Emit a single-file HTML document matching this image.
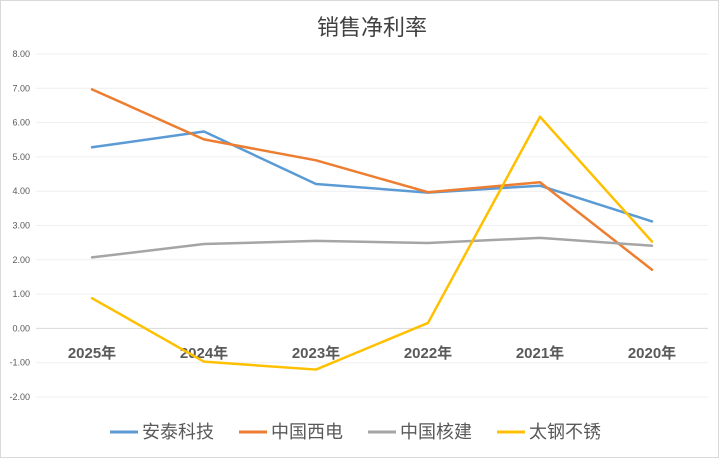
<!DOCTYPE html>
<html><head><meta charset="utf-8"><style>
body{margin:0;background:#fff;}
svg{display:block;font-family:"Liberation Sans","Noto Sans CJK SC",sans-serif;}
</style></head><body>
<svg width="719" height="458">
<rect x="0.5" y="0.5" width="718" height="457" fill="#fff" stroke="#d9d9d9"/>
<text x="372" y="35" text-anchor="middle" font-size="22" fill="#404040">销售净利率</text>
<g id="grid"></g><g id="yl"></g><g id="xl"></g><g id="lines"></g>
<g font-size="18" fill="#595959">
<g><line x1="110" y1="432" x2="138" y2="432" stroke="#5b9bd5" stroke-width="3"/><text x="142" y="438">安泰科技</text></g>
<g><line x1="239" y1="432" x2="267" y2="432" stroke="#ed7d31" stroke-width="3"/><text x="271" y="438">中国西电</text></g>
<g><line x1="368" y1="432" x2="396" y2="432" stroke="#a5a5a5" stroke-width="3"/><text x="400" y="438">中国核建</text></g>
<g><line x1="497" y1="432" x2="525" y2="432" stroke="#ffc000" stroke-width="3"/><text x="529" y="438">太钢不锈</text></g>
</g>
</svg>
<script>
const categories=["2025年","2024年","2023年","2022年","2021年","2020年"];
const antai=[5.28,5.74,4.21,3.96,4.16,3.12];
const xidian=[6.97,5.51,4.90,3.97,4.26,1.71];
const hejian=[2.07,2.46,2.55,2.49,2.64,2.41];
const taigang=[0.88,-0.97,-1.20,0.16,6.17,2.53];
const yTicks=[8,7,6,5,4,3,2,1,0,-1,-2];
const NS="http://www.w3.org/2000/svg";
const x0=36,x1=708,yTop=54,yBot=397,vMax=8,vMin=-2;
const X=i=>x0+(i+0.5)*(x1-x0)/categories.length;
const Y=v=>yTop+(vMax-v)*(yBot-yTop)/(vMax-vMin);
function mk(t,a,p){const e=document.createElementNS(NS,t);for(const k in a)e.setAttribute(k,a[k]);p.appendChild(e);return e;}
const g=document.getElementById('grid'),yl=document.getElementById('yl'),xl=document.getElementById('xl'),ln=document.getElementById('lines');
yTicks.forEach(v=>{
const l=mk('line',{x1:x0,x2:x1,y1:Y(v),y2:Y(v),stroke:v===0?'#d9d9d9':'#efefef','stroke-width':1},g);


const t=mk('text',{x:30,y:Y(v)+3,'text-anchor':'end','font-size':9,fill:'#595959'},yl);
t.textContent=v.toFixed(2);


});
categories.forEach((c,i)=>{
const t=mk('text',{x:X(i),y:358,'text-anchor':'middle','font-size':15,'font-weight':'bold',fill:'#595959'},xl);
t.textContent=c;


});
[[antai,'#5b9bd5','line-antai'],[xidian,'#ed7d31','line-xidian'],[hejian,'#a5a5a5','line-hejian'],[taigang,'#ffc000','line-taigang']].forEach(([d,c,n])=>{
const p=mk('polyline',{points:d.map((v,i)=>X(i)+','+Y(v)).join(' '),fill:'none',stroke:c,'stroke-width':2.5,'stroke-linejoin':'round','stroke-linecap':'round'},ln);


});
</script>
</body></html>
